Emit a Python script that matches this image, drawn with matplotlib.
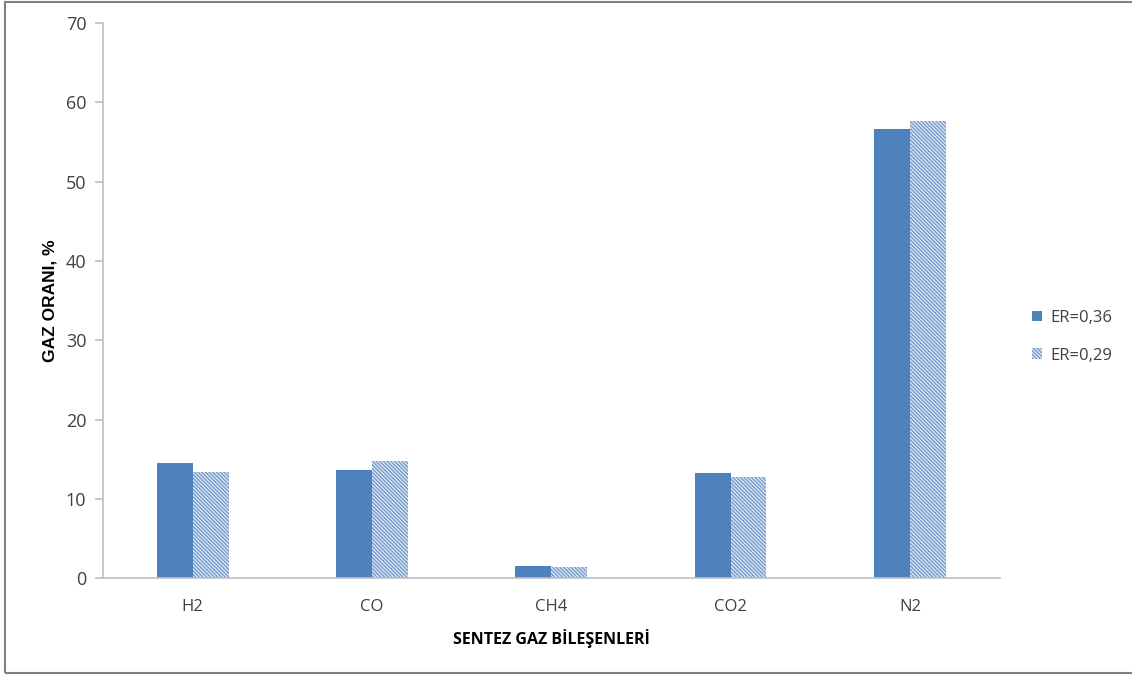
"""Grouped bar chart of syngas composition for two equivalence ratios."""

import matplotlib
matplotlib.use("Agg")
import matplotlib.pyplot as plt
import numpy as np
from matplotlib.patches import Rectangle

CATEGORIES = ["H2", "CO", "CH4", "CO2", "N2"]
ER_036 = [14.5, 13.7, 1.55, 13.3, 56.6]
ER_029 = [13.4, 14.8, 1.35, 12.7, 57.7]
SERIES_LABELS = ["ER=0,36", "ER=0,29"]
Y_TICKS = [0, 10, 20, 30, 40, 50, 60, 70]

BLUE = "#4F81BD"
HATCH_BLUE = "#6F96C9"
LIGHT = "#DCE6F2"
GRID_GRAY = "#BFBFBF"
TEXT = "#404040"

plt.rcParams["font.family"] = ["Open Sans", "DejaVu Sans"]
plt.rcParams["hatch.linewidth"] = 0.9

fig = plt.figure(figsize=(11.32, 6.77), dpi=100)
ax = fig.add_axes([0.091, 0.146, 0.792, 0.820])

x = np.arange(len(CATEGORIES))
w = 0.2
ax.bar(x - w / 2, ER_036, width=w, color=BLUE, edgecolor="none",
       label=SERIES_LABELS[0])
ax.bar(x + w / 2, ER_029, width=w, color=LIGHT, edgecolor=HATCH_BLUE,
       linewidth=0, hatch="\\" * 9, label=SERIES_LABELS[1])

ax.set_xlim(-0.5, len(CATEGORIES) - 0.5)
ax.set_ylim(0, 70)
ax.set_yticks(Y_TICKS)
ax.set_xticks(x)
ax.set_xticklabels(CATEGORIES)

for side in ("top", "right"):
    ax.spines[side].set_visible(False)
for side in ("left", "bottom"):
    ax.spines[side].set_color(GRID_GRAY)
    ax.spines[side].set_linewidth(1.2)

ax.tick_params(axis="y", colors=GRID_GRAY, length=6, width=1.2,
               labelcolor=TEXT, labelsize=13, pad=6)
ax.tick_params(axis="x", length=0, labelcolor=TEXT, labelsize=12, pad=15)

ax.set_ylabel("GAZ ORANI, %", family=["Liberation Sans", "DejaVu Sans"],
              fontweight="bold", fontsize=12.5, color="black", labelpad=6)
ax.set_xlabel("SENTEZ GAZ BİLEŞENLERİ", fontweight="bold", fontsize=11.5,
              color="black", labelpad=10)

leg = ax.legend(loc="center left", bbox_to_anchor=(1.02, 0.435), frameon=False,
                fontsize=12, handlelength=0.6, handleheight=0.6,
                handletextpad=0.5, labelspacing=1.3)
for t in leg.get_texts():
    t.set_color(TEXT)

# outer frame around the figure
fig.patches.append(Rectangle((5 / 1132, 4 / 677), 1.2, 1 - 6 / 677,
                             transform=fig.transFigure, fill=False,
                             edgecolor="#808080", linewidth=1.5))

fig.savefig("out.png", dpi=100)
